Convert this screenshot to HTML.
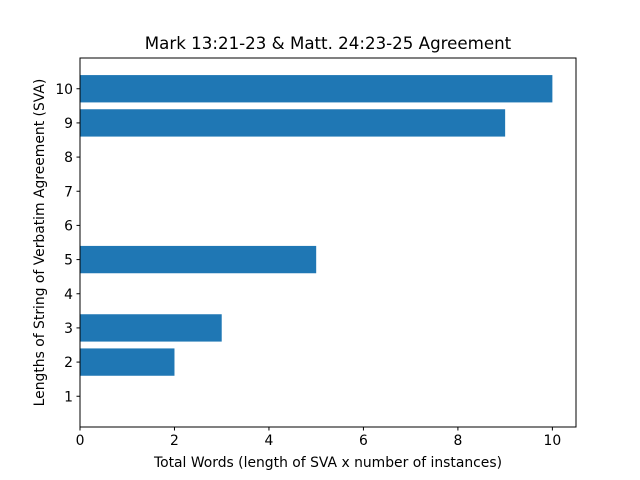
<!DOCTYPE html>
<html><head><meta charset="utf-8"><style>
body{margin:0;background:#fff;}
svg{display:block;font-family:"DejaVu Sans","Liberation Sans",sans-serif;}
</style></head><body>
<svg id="chart" width="640" height="480">
<rect width="640" height="480" fill="#fff"/>
<text x="328" y="49" font-size="16.67" text-anchor="middle">Mark 13:21-23 &amp; Matt. 24:23-25 Agreement</text>
<g id="bars"></g>
<rect x="80" y="58" width="496" height="369" fill="none" stroke="#000" stroke-width="1"/>
<g id="xticks"></g><g id="yticks"></g>
<text x="328" y="467" font-size="13.9" text-anchor="middle">Total Words (length of SVA x number of instances)</text>
<text transform="translate(44,242.5) rotate(-90)" font-size="13.9" text-anchor="middle">Lengths of String of Verbatim Agreement (SVA)</text>
</svg>
<script>
const categories=[1,2,3,4,5,6,7,8,9,10];
const values=[0,2,3,0,5,0,0,0,9,10];
const xTickLabels=[0,2,4,6,8,10];
const yTickLabels=[1,2,3,4,5,6,7,8,9,10];
const ns="http://www.w3.org/2000/svg";
const L=80,R=576,T=58,B=427,xmin=0,xmax=10.5,ymin=0.1,ymax=10.9;
const xs=v=>L+(v-xmin)/(xmax-xmin)*(R-L);
const ys=v=>B-(v-ymin)/(ymax-ymin)*(B-T);
const mk=(t,a)=>{const e=document.createElementNS(ns,t);for(const k in a)e.setAttribute(k,a[k]);return e;};
const bars=document.getElementById('bars');
categories.forEach((c,i)=>{
 if(values[i]<=0)return;
 const r=mk('rect',{x:xs(0),y:ys(c+0.4),width:xs(values[i])-xs(0),height:ys(c-0.4)-ys(c+0.4),fill:'#1f77b4'});
 
 
 bars.appendChild(r);
});
const xt=document.getElementById('xticks');
xTickLabels.forEach(v=>{
 const l=mk('line',{x1:xs(v),x2:xs(v),y1:B,y2:B+3.5,stroke:'#000'});
 
 
 xt.appendChild(l);
 const t=mk('text',{x:xs(v),y:B+18,'font-size':13.9,'text-anchor':'middle'});
 t.textContent=v;
 
 
 xt.appendChild(t);
});
const yt=document.getElementById('yticks');
yTickLabels.forEach(v=>{
 const l=mk('line',{x1:L-3.5,x2:L,y1:ys(v),y2:ys(v),stroke:'#000'});
 
 
 yt.appendChild(l);
 const t=mk('text',{x:L-7,y:ys(v)+5,'font-size':13.9,'text-anchor':'end'});
 t.textContent=v;
 
 
 yt.appendChild(t);
});
</script>
</body></html>
